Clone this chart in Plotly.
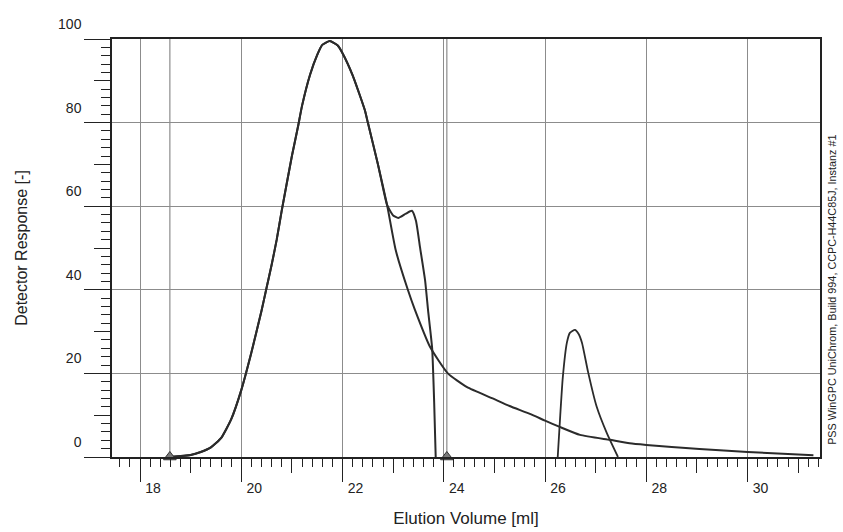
import plotly.graph_objects as go

# ---- data ----
rise_x = [18.59, 19.0, 19.2, 19.4, 19.6, 19.8, 20.0, 20.2, 20.4, 20.5, 20.6, 20.7, 20.8,
          21.0, 21.12, 21.2, 21.36, 21.5, 21.6, 21.75, 21.9, 22.0, 22.2, 22.44, 22.5,
          22.7, 22.88]
rise_y = [0, 0.5, 1.2, 2.3, 4.5, 9.0, 16, 25, 35, 40.5, 46, 52, 59,
          72, 79, 84, 91.5, 96.2, 98.6, 99.5, 98.5, 96.6, 91.3, 83, 80,
          70, 60.3]

# curve with shoulder that drops sharply
shoulder_x = [23.0, 23.1, 23.25, 23.37, 23.45, 23.53, 23.63, 23.69, 23.77, 23.81, 23.84]
shoulder_y = [57.8, 57.2, 58.2, 58.9, 56.5, 50.2, 42.3, 35, 26, 13, 0]

# curve with long tail
tail_x = [23.05, 23.29, 23.43, 23.73, 24.08, 24.46, 24.95, 25.3, 25.7, 26.0, 26.29,
          26.69, 27.28, 27.67, 28.0, 28.5, 29.05, 30.0, 31.0, 31.3]
tail_y = [49.5, 40, 35.2, 26.3, 20, 16.7, 14.1, 12.2, 10.3, 8.7, 7.2,
          5.3, 4.1, 3.3, 2.9, 2.4, 1.9, 1.2, 0.6, 0.4]

# small late peak
peak_x = [26.25, 26.3, 26.35, 26.43, 26.49, 26.59, 26.66, 26.73, 26.85, 27.02, 27.22, 27.44]
peak_y = [0, 10, 19, 27.3, 29.7, 30.4, 29.5, 27.3, 20.3, 12, 5.7, 0]

baseline_limits = [18.59, 24.06]
marker_level = [0, 0]

x_range = [17.447, 31.43]
y_range = [0, 100]
x_mid_ticks = [17, 19, 21, 23, 25, 27, 29, 31]
y_mid_ticks = [10, 30, 50, 70, 90]

CURVE = "#2b2b2b"
GRID = "#8c8c8c"
AX = "#222222"
FONT = "Liberation Sans, Arial, sans-serif"

fig = go.Figure()

# baseline limit lines
for v in baseline_limits:
    fig.add_trace(go.Scatter(x=[v, v], y=[y_range[0], y_range[1]], mode="lines",
                             line=dict(color=GRID, width=1.2), showlegend=False,
                             hoverinfo="skip"))

curve_a_x = rise_x + tail_x
curve_a_y = rise_y + tail_y
curve_b_x = rise_x + shoulder_x
curve_b_y = rise_y + shoulder_y

for cx, cy, w in [(curve_a_x, curve_a_y, 2.0), (curve_b_x, curve_b_y, 2.0), (peak_x, peak_y, 1.8)]:
    fig.add_trace(go.Scatter(x=cx, y=cy, mode="lines",
                             line=dict(color=CURVE, width=w, shape="spline", smoothing=0.5),
                             showlegend=False, cliponaxis=False))

# baseline markers (triangles at the baseline limits)
fig.add_trace(go.Scatter(x=baseline_limits, y=marker_level, mode="markers",
                         marker=dict(symbol="triangle-up", size=11, color="#7a7a7a",
                                     line=dict(color="#333333", width=1)),
                         showlegend=False, cliponaxis=False))

# dummy trace for overlay axes (mid-length ticks)
fig.add_trace(go.Scatter(x=[None], y=[None], xaxis="x2", yaxis="y2", showlegend=False,
                         hoverinfo="skip"))

fig.update_layout(
    width=843, height=532,
    margin=dict(l=112, r=23, t=39, b=75),
    paper_bgcolor="white", plot_bgcolor="white",
    font=dict(family=FONT, color="#222", size=14),
    xaxis=dict(range=x_range, dtick=2, tick0=0, showgrid=True, gridcolor=GRID, gridwidth=1,
               showline=True, linecolor=AX, linewidth=1.5, mirror=True,
               ticks="outside", ticklen=23, tickcolor=AX, tickwidth=1,
               minor=dict(dtick=0.2, tick0=0, ticks="outside", ticklen=8, tickcolor=AX,
                          showgrid=False),
               ticklabelshift=13, ticklabelstandoff=-6,
               tickfont=dict(size=14), automargin=False,
               title=dict(text="Elution Volume [ml]", font=dict(size=17), standoff=18),
               zeroline=False),
    yaxis=dict(range=y_range, dtick=20, tick0=0, showgrid=True, gridcolor=GRID, gridwidth=1,
               showline=True, linecolor=AX, linewidth=1.5, mirror=True,
               ticks="outside", ticklen=26, tickcolor=AX, tickwidth=1,
               minor=dict(dtick=2, tick0=0, ticks="outside", ticklen=9, tickcolor=AX,
                          showgrid=False),
               ticklabelshift=-15, ticklabelstandoff=0,
               tickfont=dict(size=14), automargin=False,
               title=dict(text="Detector Response [-]", font=dict(size=16), standoff=26),
               zeroline=False),
    xaxis2=dict(range=x_range, overlaying="x", anchor="y", side="bottom",
                tickvals=x_mid_ticks, ticks="outside", ticklen=15, tickcolor=AX,
                showticklabels=False, showgrid=False, showline=False, zeroline=False),
    yaxis2=dict(range=y_range, overlaying="y", anchor="x", side="left",
                tickvals=y_mid_ticks, ticks="outside", ticklen=17, tickcolor=AX,
                showticklabels=False, showgrid=False, showline=False, zeroline=False),
    annotations=[dict(text="PSS WinGPC UniChrom, Build 994, CCPC-H44C85J, Instanz #1",
                      xref="paper", yref="paper", x=1.017, y=0.40, textangle=-90,
                      showarrow=False, font=dict(size=10.8, color="#222"),
                      xanchor="center", yanchor="middle")],
)

fig.write_html("out.html")
